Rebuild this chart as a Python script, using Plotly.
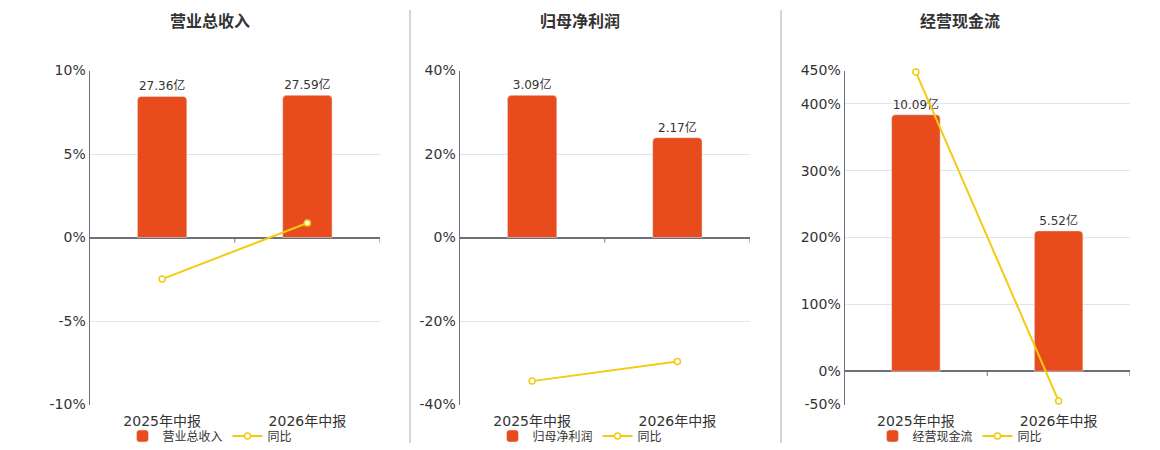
import plotly.graph_objects as go

# 报告期
periods = ["2025年中报", "2026年中报"]

# 柱：金额（亿）
revenue = [27.36, 27.59]
net_profit = [3.09, 2.17]
cash_flow = [10.09, 5.52]

# 线：同比（%）
revenue_yoy = [-2.49, 0.87]
profit_yoy = [-34.4, -29.7]
cash_yoy = [447.6, -44.9]

titles = ["营业总收入", "归母净利润", "经营现金流"]

bar_color = "#E84C1D"
line_color = "#F3CB12"
axis_color = "#6E7079"
grid_color = "#E0E6F1"
font_family = "DejaVu Sans, Noto Sans CJK SC, sans-serif"

W, H = 1160, 450
OFF = 8  # page body margin


def px(x):
    return (x - OFF) / W


def py(y):
    return 1 - (y - OFF) / H


panels = [
    dict(name="营业总收入", bars=revenue, yoy=revenue_yoy, left=89.5, right=380,
         bar_range=[-32.4, 32.4], pct_range=[-10, 10], ticks=[-10, -5, 0, 5, 10], cx=210),
    dict(name="归母净利润", bars=net_profit, yoy=profit_yoy, left=459.5, right=750,
         bar_range=[-3.63, 3.63], pct_range=[-40, 40], ticks=[-40, -20, 0, 20, 40], cx=580),
    dict(name="经营现金流", bars=cash_flow, yoy=cash_yoy, left=844.5, right=1130,
         bar_range=[-1.31, 11.83], pct_range=[-50, 450], ticks=[-50, 0, 100, 200, 300, 400, 450], cx=960),
]

fig = go.Figure()
shapes = []
annotations = []
ydom = [py(404.5), py(70.5)]

for i, p in enumerate(panels):
    xa = "x" if i == 0 else f"x{i + 1}"
    yb = f"y{2 * i + 1}" if i else "y"
    yl = f"y{2 * i + 2}"
    leg = "legend" if i == 0 else f"legend{i + 1}"

    fig.add_trace(go.Bar(
        x=periods, y=p["bars"], name=p["name"], xaxis=xa, yaxis=yb, legend=leg,
        marker=dict(color=bar_color, cornerradius=4), width=0.34,
        texttemplate="%{y:.2f}亿", textposition="outside", cliponaxis=False,
        textfont=dict(size=12, color="#333333"),
    ))
    fig.add_trace(go.Scatter(
        x=periods, y=p["yoy"], name="同比", xaxis=xa, yaxis=yl, legend=leg,
        mode="lines+markers", line=dict(color=line_color, width=2),
        marker=dict(size=6, color="white", line=dict(color=line_color, width=1.5)),
        cliponaxis=False,
    ))

    xkey = "xaxis" if i == 0 else f"xaxis{i + 1}"
    ybkey = "yaxis" if i == 0 else f"yaxis{2 * i + 1}"
    ylkey = f"yaxis{2 * i + 2}"
    fig.layout[xkey] = dict(domain=[px(p["left"]), px(p["right"])], anchor=yb,
                            showline=False, showgrid=False, ticks="",
                            ticklabelstandoff=6,
                            tickfont=dict(size=14, color="#333333"),
                            range=[-0.5, 1.5], fixedrange=True)
    fig.layout[ybkey] = dict(domain=ydom, anchor=xa, range=p["bar_range"], visible=False,
                             showgrid=False, zeroline=False)
    fig.layout[ylkey] = dict(domain=ydom, anchor=xa, overlaying=yb, side="left",
                             range=p["pct_range"], tickmode="array", tickvals=p["ticks"],
                             ticktext=[f"{v}%" for v in p["ticks"]],
                             showgrid=True, gridcolor=grid_color, gridwidth=1,
                             zeroline=True, zerolinecolor=axis_color, zerolinewidth=2,
                             showline=True, linecolor=axis_color, linewidth=1,
                             tickfont=dict(size=14, color="#333333"))

    # 零轴上的分类刻度
    for k in range(len(periods)):
        shapes.append(dict(type="line", xref=xa, yref=yl, x0=k + 0.5, x1=k + 0.5,
                           ysizemode="pixel", yanchor=0, y0=0, y1=-5,
                           line=dict(color=axis_color, width=1)))

    annotations.append(dict(text=f"<b>{titles[i]}</b>", xref="paper", yref="paper",
                            x=px(p["cx"]), y=py(22), xanchor="center", yanchor="middle",
                            showarrow=False, font=dict(size=16, color="#333333")))
    fig.layout[leg] = dict(orientation="h", x=px(p["cx"]), y=py(436), xanchor="center",
                           yanchor="middle", font=dict(size=12, color="#333333"),
                           bgcolor="rgba(0,0,0,0)", itemwidth=30)

# 分隔线
for sx in [410, 781]:
    shapes.append(dict(type="line", xref="paper", yref="paper", x0=px(sx), x1=px(sx),
                       y0=py(10), y1=py(443), line=dict(color="#AAAAAA", width=1)))

fig.update_layout(
    width=W, height=H, margin=dict(l=0, r=0, t=0, b=0, autoexpand=False),
    paper_bgcolor="white", plot_bgcolor="white",
    font=dict(family=font_family, color="#333333"),
    shapes=shapes, annotations=annotations,
)

fig.write_html("out.html")
